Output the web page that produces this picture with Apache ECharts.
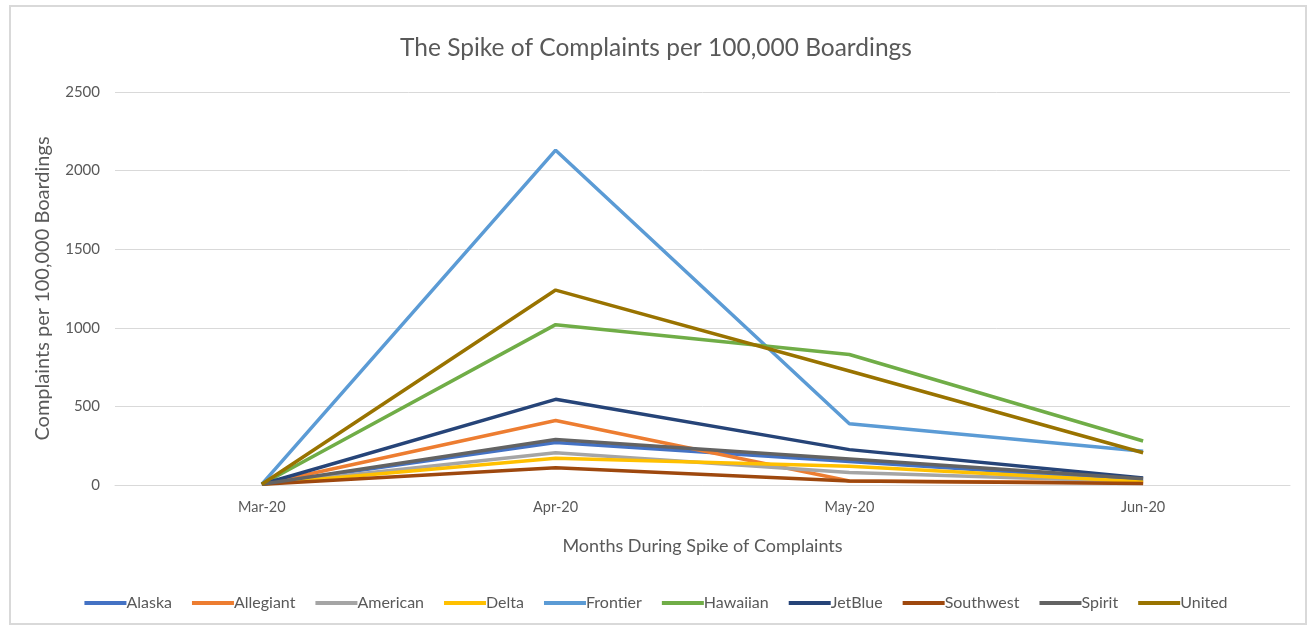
<!DOCTYPE html>
<html>
<head>
<meta charset="utf-8">
<script src="https://cdn.jsdelivr.net/npm/echarts@6/dist/echarts.min.js"></script>
<style>
html,body{margin:0;padding:0;background:#fff;}
#c{width:1312px;height:633px;}
</style>
</head>
<body>
<div id="c"></div>
<script>
const months = ['Mar-20', 'Apr-20', 'May-20', 'Jun-20'];
const yTicks = [0, 500, 1000, 1500, 2000, 2500];
const alaska    = [5, 270, 150, 30];
const allegiant = [5, 410, 25, 15];
const american  = [5, 205, 80, 20];
const delta     = [5, 170, 120, 20];
const frontier  = [5, 2130, 390, 215];
const hawaiian  = [5, 1020, 830, 280];
const jetblue   = [5, 545, 225, 45];
const southwest = [5, 110, 25, 10];
const spirit    = [5, 290, 165, 40];
const united    = [5, 1240, 725, 205];

const seriesNames = ['Alaska','Allegiant','American','Delta','Frontier','Hawaiian','JetBlue','Southwest','Spirit','United'];
const seriesData = [alaska, allegiant, american, delta, frontier, hawaiian, jetblue, southwest, spirit, united];
const colors = ['#4472C4','#ED7D31','#A5A5A5','#FFC000','#5B9BD5','#70AD47','#264478','#9E480E','#636363','#997300'];

const font = 'Lato, "Open Sans", sans-serif';
const chart = echarts.init(document.getElementById('c'));
chart.setOption({
  animation: false,
  color: colors,
  textStyle: {fontFamily: font},
  graphic: [{
    type: 'rect',
    shape: {x: 10, y: 6, width: 1296, height: 618},
    style: {fill: 'none', stroke: '#d9d9d9', lineWidth: 2}
  }],
  title: {
    text: 'The Spike of Complaints per 100,000 Boardings',
    left: 'center', top: 31,
    textStyle: {fontFamily: font, fontSize: 24.5, fontWeight: 'normal', color: '#595959'}
  },
  legend: {
    bottom: 17,
    left: 'center',
    itemWidth: 42, itemHeight: 4, itemGap: 20,
    icon: 'rect',
    textStyle: {fontFamily: font, fontSize: 16, color: '#595959', padding: [0,0,0,-5]},
    data: seriesNames
  },
  grid: {left: 115, right: 22, top: 92, bottom: 148},
  xAxis: {
    type: 'category',
    data: months,
    boundaryGap: true,
    name: 'Months During Spike of Complaints',
    nameLocation: 'middle',
    nameGap: 52,
    nameTextStyle: {fontFamily: font, fontSize: 18, color: '#595959'},
    axisLine: {lineStyle: {color: '#d9d9d9', width: 1}},
    axisTick: {show: false},
    axisLabel: {fontFamily: font, fontSize: 14.5, color: '#595959', margin: 15}
  },
  yAxis: {
    type: 'value',
    min: yTicks[0], max: yTicks[yTicks.length-1], interval: 500,
    name: 'Complaints per 100,000 Boardings',
    nameLocation: 'middle',
    nameGap: 62,
    nameTextStyle: {fontFamily: font, fontSize: 20, color: '#595959'},
    axisLine: {show: false},
    axisTick: {show: false},
    axisLabel: {fontFamily: font, fontSize: 15, color: '#595959', margin: 15, formatter: v => String(v)},
    splitLine: {lineStyle: {color: '#d9d9d9', width: 1}}
  },
  series: seriesNames.map((n, i) => ({
    name: n,
    type: 'line',
    data: seriesData[i],
    symbol: 'none',
    lineStyle: {width: 3.5, color: colors[i]},
    itemStyle: {color: colors[i]}
  }))
});
</script>
</body>
</html>
